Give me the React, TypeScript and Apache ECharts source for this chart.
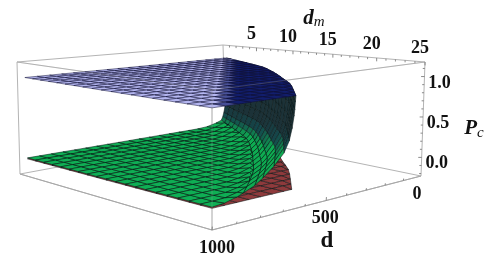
import React, { useEffect, useRef } from "react";
import * as echarts from "echarts";

const dmRows = [1.25, 2.5, 3.75, 5, 6.25, 7.5, 8.75, 10, 11.25, 12.5, 13.75, 15, 16.25, 17.5, 18.75, 20, 21.25, 22.5, 23.75, 25];
const cupD = [30, 50, 70, 90, 110, 130, 152, 175, 205, 240, 275, 312, 350, 390, 428, 468, 515, 565, 615, 665];
const wallSpread = [40, 48, 56, 64, 72, 80, 88, 96, 104, 112, 120, 128, 137, 146, 155, 165, 175, 185, 197, 210];
const dColumns = [1000, 950, 900, 850, 800, 750, 700, 650, 600, 550, 500, 450, 400, 350, 300, 250, 200, 150, 100, 50, 0];
const wallZ = [1, 0.93, 0.85, 0.78, 0.65, 0.52, 0.4, 0.28, 0.18, 0.12, 0.07];
const wallShare = [0, 0.005, 0.01, 0.02, 0.05, 0.1, 0.2, 0.4, 0.62, 0.78, 1];
const dmMinorTicks = [1, 2, 3, 4, 5, 6, 7, 8, 9, 10, 11, 12, 13, 14, 15, 16, 17, 18, 19, 20, 21, 22, 23, 24, 25];
const dMinorTicks = [100, 200, 300, 400, 500, 600, 700, 800, 900, 1000];
const zMinorTicks = [-0.2, -0.1, 0, 0.1, 0.2, 0.3, 0.4, 0.5, 0.6, 0.7, 0.8, 0.9, 1, 1.1];
const dmLabels = [5, 10, 15, 20, 25];
const dLabels = [0, 500, 1000];
const zLabels = ["0.0", "0.5", "1.0"];

const Z_MIN = -0.23, Z_MAX = 1.18, DM_MAX = 25, D_MAX = 1000;
type P = [number, number];

function quadMap(p0: P, p1: P, p2: P, p3: P) {
  const dx1 = p1[0] - p2[0], dx2 = p3[0] - p2[0], sx = p0[0] - p1[0] + p2[0] - p3[0];
  const dy1 = p1[1] - p2[1], dy2 = p3[1] - p2[1], sy = p0[1] - p1[1] + p2[1] - p3[1];
  const den = dx1 * dy2 - dx2 * dy1;
  const g = (sx * dy2 - dx2 * sy) / den, h = (dx1 * sy - sx * dy1) / den;
  const a = p1[0] - p0[0] + g * p1[0], b = p3[0] - p0[0] + h * p3[0];
  const d = p1[1] - p0[1] + g * p1[1], e = p3[1] - p0[1] + h * p3[1];
  return (u: number, v: number): P => {
    const w = g * u + h * v + 1;
    return [(a * u + b * v + p0[0]) / w, (d * u + e * v + p0[1]) / w];
  };
}
// back, right, front, left corners of the plot box
const topFace = quadMap([223, 45], [425, 62], [212, 90], [17, 62]);
const floorFace = quadMap([226, 136], [421, 176], [212, 230], [20, 174]);

function project(d: number, dm: number, z: number): P {
  const t = (z - Z_MIN) / (Z_MAX - Z_MIN);
  const a = floorFace(dm / DM_MAX, d / D_MAX), b = topFace(dm / DM_MAX, d / D_MAX);
  return [a[0] + (b[0] - a[0]) * t, a[1] + (b[1] - a[1]) * t];
}

const mix = (a: number[], b: number[], t: number) => {
  const k = Math.max(0, Math.min(1, t));
  return `rgb(${a.map((v, i) => Math.round(v + (b[i] - v) * k)).join(",")})`;
};

const RED = 0, WALL = 1, GREEN = 2, BLUE = 3;

function sheetCells(kind: number, ends: number[], zAt: (d: number, end: number) => number) {
  const out: number[][] = [];
  for (let i = 0; i + 1 < dmRows.length; i++) {
    for (let j = 0; j + 1 < dColumns.length; j++) {
      const e0 = ends[i], e1 = ends[i + 1];
      if (dColumns[j] <= e0 && dColumns[j] <= e1) break;
      const a0 = Math.max(dColumns[j], e0), a1 = Math.max(dColumns[j + 1], e0);
      const b0 = Math.max(dColumns[j], e1), b1 = Math.max(dColumns[j + 1], e1);
      out.push([
        kind,
        a0, dmRows[i], zAt(a0, e0),
        a1, dmRows[i], zAt(a1, e0),
        b1, dmRows[i + 1], zAt(b1, e1),
        b0, dmRows[i + 1], zAt(b0, e1),
      ]);
    }
  }
  return out;
}

function wallCells() {
  const out: number[][] = [];
  for (let i = 0; i + 1 < dmRows.length; i++) {
    for (let j = 0; j + 1 < wallZ.length; j++) {
      out.push([
        WALL,
        cupD[i] + wallSpread[i] * wallShare[j], dmRows[i], wallZ[j],
        cupD[i] + wallSpread[i] * wallShare[j + 1], dmRows[i], wallZ[j + 1],
        cupD[i + 1] + wallSpread[i + 1] * wallShare[j + 1], dmRows[i + 1], wallZ[j + 1],
        cupD[i + 1] + wallSpread[i + 1] * wallShare[j], dmRows[i + 1], wallZ[j],
      ]);
    }
  }
  return out;
}

const greenEnds = cupD.map((c, i) => Math.min(c + wallSpread[i], 1000));
const greenLift = (d: number, end: number) => {
  const k = Math.max(0, 1 - (d - end) / 125);
  return 0.07 * k * k;
};
const cells = [
  ...sheetCells(RED, cupD, () => -0.012),
  ...wallCells(),
  ...sheetCells(GREEN, greenEnds, greenLift),
  ...sheetCells(BLUE, cupD, () => 1),
];

const LIGHT = [180, 182, 240], NAVY = [18, 30, 108];
const BRIGHT = [14, 172, 82], TEAL = [20, 72, 76], DARK = [28, 50, 56];

function cellFill(kind: number, dm: number, z: number, c: P) {
  if (kind === RED) return "#8e3a3c";
  if (kind === GREEN) return "#0fae54";
  if (kind === BLUE) {
    const edge = 228 - ((c[1] - 62) * 6) / 45;
    return mix(LIGHT, NAVY, (c[0] - edge) / 5);
  }
  const ratio = dm / DM_MAX;
  const level = (z - (0.03 + 0.33 * ratio * ratio)) / 0.12;
  if (level < 0) return mix(BRIGHT, BRIGHT, 0);
  if (level < 1) return mix(BRIGHT, TEAL, level);
  return mix(TEAL, DARK, level - 1);
}

const renderCell = (_: any, api: any) => {
  const kind = api.value(0);
  const pts: P[] = [];
  const raw: P[] = [];
  let dmSum = 0, zSum = 0;
  for (let k = 0; k < 4; k++) {
    const dm = api.value(2 + k * 3), z = api.value(3 + k * 3);
    const p = project(api.value(1 + k * 3), dm, z);
    raw.push(p);
    pts.push(api.coord(p));
    dmSum += dm; zSum += z;
  }
  const c: P = [(raw[0][0] + raw[2][0]) / 2, (raw[0][1] + raw[2][1]) / 2];
  return {
    type: "polygon",
    shape: { points: pts },
    style: {
      fill: cellFill(kind, dmSum / 4, zSum / 4, c),
      stroke: kind === BLUE ? "rgba(15,15,55,0.8)" : "rgba(5,20,20,0.8)",
      lineWidth: 0.65,
    },
  };
};

type Seg = number[];
const edge = (a: number[], b: number[]): Seg => [...a, ...b];
const C = (d: number, dm: number, z: number) => [d, dm, z];
const backEdges: Seg[] = [
  edge(C(0, 0, Z_MIN), C(0, 0, Z_MAX)),
  edge(C(1000, 0, Z_MAX), C(0, 0, Z_MAX)),
  edge(C(0, 0, Z_MAX), C(0, 25, Z_MAX)),
  edge(C(1000, 0, Z_MIN), C(0, 0, Z_MIN)),
  edge(C(0, 0, Z_MIN), C(0, 25, Z_MIN)),
  edge(C(0, 25, Z_MIN), C(0, 25, Z_MAX)),
  edge(C(1000, 0, Z_MIN), C(1000, 0, Z_MAX)),
  edge(C(1000, 0, Z_MAX), C(1000, 25, Z_MAX)),
  edge(C(1000, 25, Z_MAX), C(0, 25, Z_MAX)),
  edge(C(1000, 0, Z_MIN), C(1000, 25, Z_MIN)),
  edge(C(1000, 25, Z_MIN), C(0, 25, Z_MIN)),
  edge(C(1000, 25, Z_MIN), C(1000, 25, Z_MAX)),
];
const frontEdges: Seg[] = [
  edge(C(1000, 0, Z_MIN), C(1000, 25, Z_MIN)),
  edge(C(1000, 25, Z_MIN), C(0, 25, Z_MIN)),
];
const ghostEdges: Seg[] = [
  edge(C(1000, 0, Z_MAX), C(1000, 25, Z_MAX)),
  edge(C(1000, 25, Z_MAX), C(0, 25, Z_MAX)),
  edge(C(1000, 25, Z_MIN), C(1000, 25, Z_MAX)),
];

const lineRender = (stroke: string, width: number) => (_: any, api: any) => {
  const a = api.coord(project(api.value(0), api.value(1), api.value(2)));
  const b = api.coord(project(api.value(3), api.value(4), api.value(5)));
  return { type: "line", shape: { x1: a[0], y1: a[1], x2: b[0], y2: b[1] }, style: { stroke, lineWidth: width } };
};

// tick: [d, dm, z, axisKind, major]
const ticks: number[][] = [
  ...dmMinorTicks.map((v) => [0, v, Z_MAX, 0, v % 5 === 0 ? 1 : 0]),
  ...dMinorTicks.map((v) => [v, 25, Z_MIN, 1, v % 500 === 0 ? 1 : 0]),
  ...zMinorTicks.map((v) => [0, 25, v, 2, Math.abs(v * 2 - Math.round(v * 2)) < 1e-6 ? 1 : 0]),
];
const tickRender = (_: any, api: any) => {
  const kind = api.value(3), major = api.value(4);
  const p = project(api.value(0), api.value(1), api.value(2));
  const len = major ? 3.4 : 2;
  const q: P = kind === 0 ? [p[0], p[1] + len] : kind === 1 ? [p[0] + 0.3, p[1] - len] : [p[0] - len, p[1]];
  const a = api.coord(p), b = api.coord(q);
  return { type: "line", shape: { x1: a[0], y1: a[1], x2: b[0], y2: b[1] }, style: { stroke: "#6e6e6e", lineWidth: 0.8 } };
};

const FONT = "Liberation Serif";
const label = (text: string, x: number, y: number) => ({
  type: "text",
  x,
  y,
  style: {
    text, x: 0, y: 0, fill: "#111", fontFamily: FONT, fontSize: 18, fontWeight: "bold",
    textAlign: "center", textVerticalAlign: "middle",
  },
});

export default function App() {
  const ref = useRef<HTMLDivElement>(null);
  useEffect(() => {
    const chart = echarts.init(ref.current!, undefined, { renderer: "svg" });
    const dLabelShift = [-4, -1, 5];
    const graphics: any[] = [
      ...dmLabels.map((v) => {
        const p = project(0, v, Z_MAX);
        return label(String(v), p[0] - 5, p[1] - 15);
      }),
      ...dLabels.map((v, i) => {
        const p = project(v, 25, Z_MIN);
        return label(String(v), p[0] + dLabelShift[i], p[1] + 16.5);
      }),
      ...zLabels.map((v) => {
        const p = project(0, 25, Number(v));
        return label(v, p[0] + 15, p[1] + 5);
      }),
      {
        type: "text", x: 327, y: 239,
        style: { text: "d", x: 0, y: 0, fill: "#111", fontFamily: FONT, fontSize: 23, fontWeight: "bold", textAlign: "center", textVerticalAlign: "middle" },
      },
      {
        type: "text", x: 314, y: 17,
        style: {
          text: "{a|d}{b|m}", x: 0, y: 0, fill: "#111", textAlign: "center", textVerticalAlign: "middle",
          rich: {
            a: { fontFamily: FONT, fontStyle: "italic", fontWeight: "bold", fontSize: 21, fill: "#111" },
            b: { fontFamily: FONT, fontStyle: "italic", fontSize: 15, fill: "#111", padding: [8, 0, 0, 0] },
          },
        },
      },
      {
        type: "text", x: 474, y: 127,
        style: {
          text: "{a|P}{b|c}", x: 0, y: 0, fill: "#111", textAlign: "center", textVerticalAlign: "middle",
          rich: {
            a: { fontFamily: FONT, fontStyle: "italic", fontWeight: "bold", fontSize: 21, fill: "#111" },
            b: { fontFamily: FONT, fontStyle: "italic", fontSize: 15, fill: "#111", padding: [9, 0, 0, 0] },
          },
        },
      },
    ];
    const custom = (data: number[][], renderItem: any, z: number) => ({
      type: "custom", coordinateSystem: "cartesian2d", data, renderItem, z, silent: true, progressive: 0, clip: false,
    });
    chart.setOption({
      animation: false,
      backgroundColor: "#fff",
      grid: { left: 0, right: 0, top: 0, bottom: 0 },
      xAxis: { type: "value", min: 0, max: 498, show: false },
      yAxis: { type: "value", min: 0, max: 255, inverse: true, show: false },
      graphic: graphics,
      series: [
        custom(backEdges, lineRender("#b4b4b4", 1), 1),
        custom(cells, renderCell, 2),
        custom(ghostEdges, lineRender("rgba(170,170,170,0.35)", 0.8), 3),
        custom(frontEdges, lineRender("#a8a8a8", 1), 4),
        custom(ticks, tickRender, 5),
      ],
    });
    return () => chart.dispose();
  }, []);
  return <div ref={ref} style={{ position: "absolute", left: 0, top: 0, width: 498, height: 255, filter: "blur(0.35px)" }} />;
}
